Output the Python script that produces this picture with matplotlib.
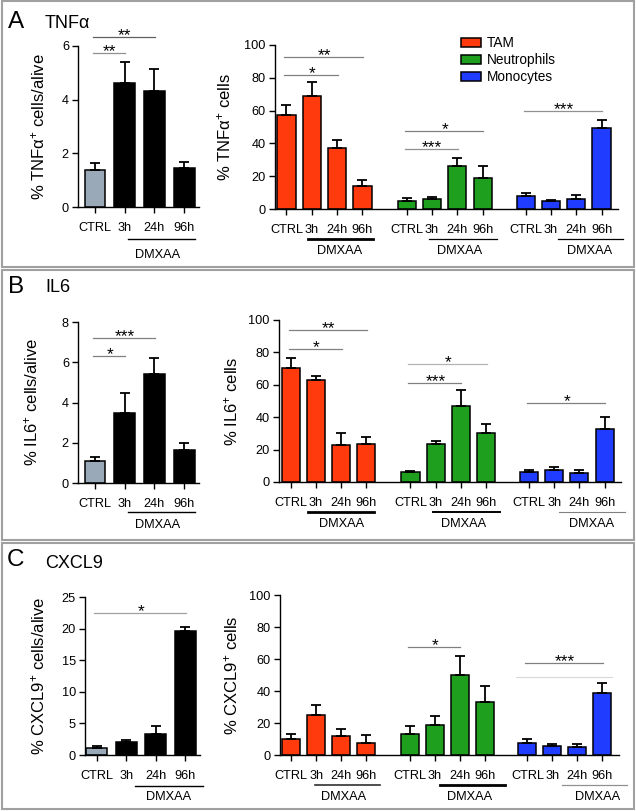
import matplotlib
matplotlib.use("Agg")
import matplotlib.pyplot as plt
from matplotlib.patches import Rectangle
import numpy as np

plt.rcParams['font.family'] = ['Liberation Sans', 'DejaVu Sans']
plt.rcParams['mathtext.fontset'] = 'custom'
plt.rcParams['mathtext.rm'] = 'Liberation Sans'
plt.rcParams['mathtext.it'] = 'Liberation Sans:italic'

times = ["CTRL", "3h", "24h", "96h"]
cell_types = ["TAM", "Neutrophils", "Monocytes"]
cell_colors = ["#ff3a0c", "#1ea01e", "#1f3cff"]
ctrl_gray = "#9aa9b8"

# % positive cells / alive (left panels)
tnf_alive = [1.38, 4.62, 4.32, 1.47]
tnf_alive_err = [0.27, 0.78, 0.81, 0.21]
il6_alive = [1.1, 3.5, 5.4, 1.65]
il6_alive_err = [0.18, 0.95, 0.8, 0.32]
cxcl9_alive = [1.05, 2.0, 3.26, 19.6]
cxcl9_alive_err = [0.37, 0.37, 1.3, 0.6]

# % positive cells per population (right panels): TAM, Neutrophils, Monocytes
tnf_tam = [57.3, 68.8, 36.9, 14.1]
tnf_tam_err = [6.2, 8.5, 4.9, 3.7]
tnf_neu = [5.1, 5.9, 26.5, 18.8]
tnf_neu_err = [1.4, 1.4, 4.7, 7.5]
tnf_mono = [8.0, 5.1, 5.9, 49.4]
tnf_mono_err = [1.6, 0.6, 2.9, 5.1]

il6_tam = [70.4, 62.8, 22.6, 23.3]
il6_tam_err = [5.9, 2.6, 7.9, 4.5]
il6_neu = [6.4, 23.3, 46.9, 30.5]
il6_neu_err = [0.6, 2.0, 10.1, 5.1]
il6_mono = [6.2, 7.4, 5.8, 32.9]
il6_mono_err = [1.4, 1.7, 1.8, 7.4]

cxcl9_tam = [9.7, 25.2, 12.0, 7.8]
cxcl9_tam_err = [3.2, 6.1, 4.5, 4.5]
cxcl9_neu = [13.3, 19.0, 50.1, 33.2]
cxcl9_neu_err = [4.9, 5.1, 11.6, 9.9]
cxcl9_mono = [7.6, 5.9, 4.9, 38.7]
cxcl9_mono_err = [2.5, 0.7, 1.9, 6.5]

# significance brackets: (group, from, to, height, stars, line colour)
tnf_alive_sig = [(0, 0, 1, 5.74, "**", "#909090"), (0, 0, 2, 6.33, "**", "#606060")]
il6_alive_sig = [(0, 0, 1, 6.33, "*", "#808080"), (0, 0, 2, 7.22, "***", "#808080")]
cxcl9_alive_sig = [(0, 0, 3, 22.5, "*", "#a0a0a0")]
tnf_sig = [(0, 0, 3, 92.4, "**", "#808080"), (0, 0, 2, 82, "*", "#808080"),
           (1, 0, 3, 47.5, "*", "#808080"), (1, 0, 2, 36.5, "***", "#909090"),
           (2, 0, 3, 59.6, "***", "#909090")]
il6_sig = [(0, 0, 3, 94, "**", "#808080"), (0, 0, 2, 82.3, "*", "#808080"),
           (1, 0, 3, 72.6, "*", "#b5b5b5"), (1, 0, 2, 60.9, "***", "#808080"),
           (2, 0, 3, 49, "*", "#808080")]
cxcl9_sig = [(1, 0, 2, 67.7, "*", "#808080"), (2, 0, 3, 57.7, "***", "#808080")]
cxcl9_mono_faint = 48.6

W, H = 636, 811
fig = plt.figure(figsize=(W / 100, H / 100), dpi=100)
group_offsets = [0, 4.75, 9.45]
TICK = 9.2


def px_axes(left, top, right, bottom):
    ax = fig.add_axes([left / W, 1 - bottom / H, (right - left) / W, (bottom - top) / H])
    ax.spines['top'].set_visible(False)
    ax.spines['right'].set_visible(False)
    ax.spines['left'].set_linewidth(1.0)
    ax.spines['bottom'].set_linewidth(1.0)
    ax.tick_params(axis='y', length=4, width=1.0, pad=2.5, labelsize=TICK)
    ax.tick_params(axis='x', length=4, width=1.0, pad=6.5, labelsize=TICK)
    return ax, bottom - top


def sig(ax, x0, x1, y, stars, color):
    ax.plot([x0 - 0.08, x1 + 0.02], [y, y], color=color, lw=0.9, clip_on=False)
    ax.annotate(stars, ((x0 + x1) / 2, y), xytext=(0, 1.0), textcoords='offset points',
                ha='center', va='center', fontsize=12.5, annotation_clip=False)


def dmxaa(ax, hpx, x0, x1, xt, line_dy, text_dy, lw=0.9, color="black"):
    tr = ax.get_xaxis_transform()
    ax.plot([x0, x1], [-line_dy / hpx] * 2, color=color, lw=lw, transform=tr, clip_on=False)
    ax.text(xt, -text_dy / hpx, "DMXAA", ha='center', va='center', fontsize=TICK, transform=tr)


def left_panel(box, xlim, vals, errs, ymax, yticks, ylabel, sigs, dm, label_x):
    ax, hpx = px_axes(*box)
    x = np.arange(4)
    colors = [ctrl_gray, "black", "black", "black"]
    ax.bar(x, vals, width=0.7, color=colors, edgecolor='black', linewidth=1.1,
           yerr=[np.zeros(4), errs],
           error_kw=dict(ecolor='black', elinewidth=1.3, capsize=3.8, capthick=1.3))
    ax.set_xlim(*xlim)
    ax.set_ylim(0, ymax)
    ax.set_yticks(yticks)
    ax.set_xticks(x)
    ax.set_xticklabels(times)
    ax.set_ylabel(ylabel, fontsize=12)
    ax.yaxis.set_label_coords((label_x - box[0]) / (box[2] - box[0]), 0.5)
    for g, i0, i1, y, s, c in sigs:
        sig(ax, i0, i1, y, s, c)
    dmxaa(ax, hpx, *dm)
    return ax


def right_panel(box, groups, ymax, ylabel, sigs, dms, label_x, legend=False):
    ax, hpx = px_axes(*box)
    ticks = []
    handles = []
    for k, (vals, errs) in enumerate(groups):
        x = group_offsets[k] + np.arange(4)
        ticks.extend(x)
        b = ax.bar(x, vals, width=0.72, color=cell_colors[k], edgecolor='black', linewidth=1.1,
                   yerr=[np.zeros(4), errs],
                   error_kw=dict(ecolor='black', elinewidth=1.3, capsize=3.4, capthick=1.3))
        handles.append(b)
    ax.set_xlim(-0.47, 13.1)
    ax.set_ylim(0, ymax)
    ax.set_yticks([0, 20, 40, 60, 80, 100])
    ax.set_xticks(ticks)
    ax.set_xticklabels(times * 3)
    ax.set_ylabel(ylabel, fontsize=12)
    ax.yaxis.set_label_coords((label_x - box[0]) / (box[2] - box[0]), 0.5)
    for g, i0, i1, y, s, c in sigs:
        o = group_offsets[g]
        sig(ax, o + i0, o + i1, y, s, c)
    for k, (x0, x1, xt, lw, col) in enumerate(dms):
        o = group_offsets[k]
        dmxaa(ax, hpx, o + x0, o + x1, o + xt, 30, 42, lw=lw, color=col)
    if legend:
        ax.legend(handles, cell_types, loc='upper left', bbox_to_anchor=(461 / W, 1 - 36 / H),
                  bbox_transform=fig.transFigure, frameon=False, fontsize=9.8,
                  handlelength=1.5, handleheight=0.6, handletextpad=0.4,
                  labelspacing=0.22, borderpad=0, borderaxespad=0)
    return ax


# panel frames
for top, bottom in [(1, 267), (270, 540), (543, 809)]:
    fig.add_artist(Rectangle((1.5 / W, 1 - bottom / H), 632.5 / W, (bottom - top) / H,
                             transform=fig.transFigure, fill=False,
                             edgecolor='#a0a0a0', lw=1.5))

# panel letters and titles
for letter, title, ly, ty in [("A", "TNFα", 22, 23), ("B", "IL6", 287, 288), ("C", "CXCL9", 560, 563)]:
    fig.text(16 / W, 1 - ly / H, letter, fontsize=17.5, ha='center', va='center')
    fig.text(45 / W, 1 - ty / H, title, fontsize=13, ha='left', va='center')

# A
left_panel((78, 46, 199, 207), (-0.57, 3.5), tnf_alive, tnf_alive_err, 6, [0, 2, 4, 6],
           r"% TNFα$^{+}$ cells/alive", tnf_alive_sig, (1.1, 3.37, 2.1, 32, 48, 1.0), 47)
right_panel((274.6, 45, 618, 209),
            [(tnf_tam, tnf_tam_err), (tnf_neu, tnf_neu_err), (tnf_mono, tnf_mono_err)],
            100, r"% TNFα$^{+}$ cells", tnf_sig,
            [(0.85, 3.43, 2.1, 2.0, "black"), (0.9, 3.55, 2.1, 0.9, "black"),
             (1.26, 3.85, 2.54, 0.9, "black")], 233, legend=True)

# B
left_panel((78, 322, 199, 483), (-0.57, 3.5), il6_alive, il6_alive_err, 8, [0, 2, 4, 6, 8],
           r"% IL6$^{+}$ cells/alive", il6_alive_sig, (1.1, 3.37, 2.1, 29, 42, 1.0), 40)
right_panel((278.9, 320, 621, 482),
            [(il6_tam, il6_tam_err), (il6_neu, il6_neu_err), (il6_mono, il6_mono_err)],
            100, r"% IL6$^{+}$ cells", il6_sig,
            [(0.7, 3.3, 2.0, 2.0, "black"), (0.9, 3.55, 2.1, 1.4, "black"),
             (1.2, 3.8, 2.5, 0.8, "#808080")], 240)

# C
left_panel((85, 597, 200, 755), (-0.4, 3.5), cxcl9_alive, cxcl9_alive_err, 25, [0, 5, 10, 15, 20, 25],
           r"% CXCL9$^{+}$ cells/alive", cxcl9_alive_sig, (1.3, 3.6, 2.43, 31, 42, 1.0), 47)
axc = right_panel((279.5, 595, 618.7, 755),
                  [(cxcl9_tam, cxcl9_tam_err), (cxcl9_neu, cxcl9_neu_err), (cxcl9_mono, cxcl9_mono_err)],
                  100, r"% CXCL9$^{+}$ cells", cxcl9_sig,
                  [(0.95, 3.55, 2.1, 1.2, "#303030"), (1.2, 3.8, 2.4, 2.0, "black"),
                   (1.4, 4.0, 2.8, 0.9, "#909090")], 240)
axc.plot([group_offsets[2] - 0.45, group_offsets[2] + 3.4], [cxcl9_mono_faint] * 2,
         color="#d8d8d8", lw=0.8)

fig.savefig("out.png", dpi=100)
